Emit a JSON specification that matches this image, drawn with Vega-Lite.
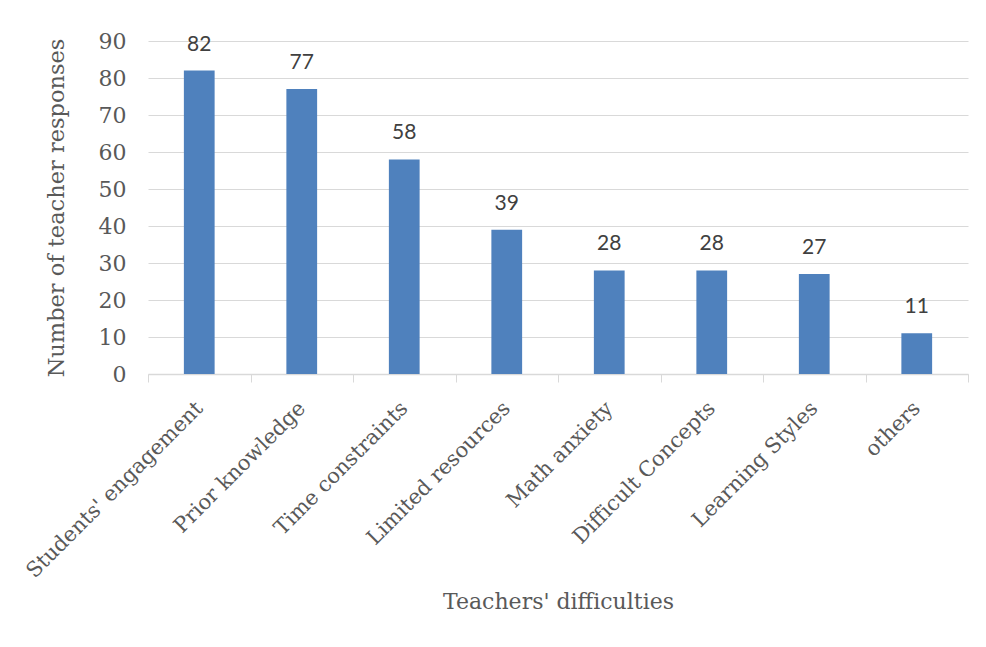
{
  "$schema": "https://vega.github.io/schema/vega-lite/v6.json",
  "autosize": {"type": "none"},
  "padding": {"left": 148, "top": 41, "right": 18, "bottom": 273},
  "width": 820,
  "height": 333,
  "background": "white",
  "config": {
    "view": {"stroke": null},
    "font": "DejaVu Serif"
  },
  "data": {
    "values": [
      {"difficulty": "Students' engagement", "responses": 82},
      {"difficulty": "Prior knowledge", "responses": 77},
      {"difficulty": "Time constraints", "responses": 58},
      {"difficulty": "Limited resources", "responses": 39},
      {"difficulty": "Math anxiety", "responses": 28},
      {"difficulty": "Difficult Concepts", "responses": 28},
      {"difficulty": "Learning Styles", "responses": 27},
      {"difficulty": "others", "responses": 11}
    ]
  },
  "encoding": {
    "x": {
      "field": "difficulty",
      "type": "nominal",
      "sort": null,
      "scale": {"paddingInner": 0, "paddingOuter": 0},
      "axis": {
        "title": "Teachers' difficulties",
        "titleFont": "DejaVu Serif",
        "titleFontSize": 22,
        "titleFontWeight": "normal",
        "titleColor": "#595959",
        "titlePadding": 17,
        "labelAngle": -45,
        "labelAlign": "right",
        "labelBaseline": "middle",
        "labelFontSize": 21,
        "labelColor": "#595959",
        "labelPadding": 23,
        "labelLimit": 0,
        "tickBand": "extent",
        "tickColor": "#D9D9D9",
        "tickSize": 8,
        "domainColor": "#D9D9D9",
        "domainWidth": 1.5,
        "grid": false
      }
    },
    "y": {
      "field": "responses",
      "type": "quantitative",
      "scale": {"domain": [0, 90]},
      "axis": {
        "title": "Number of teacher responses",
        "titleFontSize": 22.5,
        "titleFontWeight": "normal",
        "titleColor": "#595959",
        "titlePadding": 30,
        "values": [0, 10, 20, 30, 40, 50, 60, 70, 80, 90],
        "labelFontSize": 22,
        "labelColor": "#595959",
        "labelPadding": 22,
        "ticks": false,
        "domain": false,
        "grid": true,
        "gridColor": "#D9D9D9",
        "gridWidth": 1.2
      }
    }
  },
  "layer": [
    {
      "mark": {"type": "bar", "color": "#4F81BD", "width": {"band": 0.3}}
    },
    {
      "mark": {"type": "text", "baseline": "bottom", "dy": -16, "fontSize": 21, "font": "Lato", "color": "#404040"},
      "encoding": {"text": {"field": "responses", "type": "quantitative"}}
    }
  ]
}
